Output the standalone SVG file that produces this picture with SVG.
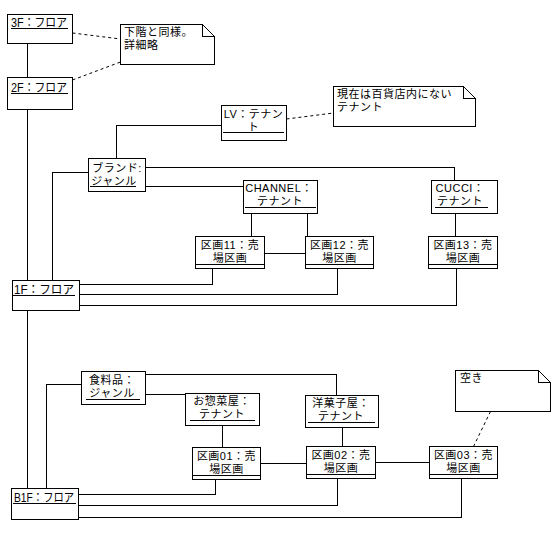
<svg xmlns="http://www.w3.org/2000/svg" width="557" height="534" viewBox="0 0 557 534">
<style>
  .bx{fill:#fff;stroke:#000;stroke-width:1}
  .ln{fill:none;stroke:#000;stroke-width:1}
  .dl{fill:none;stroke:#000;stroke-width:1;stroke-dasharray:3,3}
  text{font-family:"Liberation Sans","Noto Sans CJK JP",sans-serif;font-size:11px;letter-spacing:0.5px;fill:#000}
  .f{font-size:12px;letter-spacing:0}
  .c{text-anchor:middle}
  g{shape-rendering:crispEdges}
  #connectors .dl{shape-rendering:auto}
</style>
<rect width="557" height="534" fill="#fff"/>
<g id="connectors">
  <path class="ln" d="M27.5 43.5V77.5"/>
  <path class="ln" d="M27.5 109.5V280.5"/>
  <path class="ln" d="M27.5 310.5V488.5"/>
  <path class="dl" d="M72.5 33L120.5 39"/>
  <path class="dl" d="M72.5 80L120.5 62"/>
  <path class="ln" d="M221.5 125.5H116.5V158.5"/>
  <path class="dl" d="M286.5 119L333.5 113"/>
  <path class="ln" d="M88.5 172.5H52.5V280.5"/>
  <path class="ln" d="M145.5 167.5H454.5V180.5"/>
  <path class="ln" d="M145.5 186.5H243.5"/>
  <path class="ln" d="M251.5 213.5V236.5"/>
  <path class="ln" d="M307.5 213.5V236.5"/>
  <path class="ln" d="M264.5 253.5H305.5"/>
  <path class="ln" d="M455.5 213.5V236.5"/>
  <path class="ln" d="M79.5 284.5H212.5V268.5"/>
  <path class="ln" d="M79.5 294.5H337.5V268.5"/>
  <path class="ln" d="M79.5 305.5H456.5V268.5"/>
  <path class="ln" d="M81.5 384.5H46.5V488.5"/>
  <path class="ln" d="M145.5 374.5H336.5V395.5"/>
  <path class="ln" d="M145.5 394.5H185.5"/>
  <path class="ln" d="M222.5 425.5V447.5"/>
  <path class="ln" d="M342.5 427.5V446.5"/>
  <path class="ln" d="M260.5 463.5H306.5"/>
  <path class="ln" d="M375.5 462.5H429.5"/>
  <path class="ln" d="M78.5 494.5H215.5V479.5"/>
  <path class="ln" d="M78.5 505.5H337.5V478.5"/>
  <path class="ln" d="M78.5 517.5H461.5V478.5"/>
  <path class="dl" d="M490.5 411.5L473.5 446.5"/>
</g>

<g id="floor3F">
  <rect class="bx" x="7.5" y="14.5" width="65" height="29"/>
  <text class="f" x="11" y="26.5" textLength="56" lengthAdjust="spacingAndGlyphs">3F：フロア</text>
  <path class="ln" d="M11 28.5H68"/>
</g>
<g id="floor2F">
  <rect class="bx" x="7.5" y="77.5" width="65" height="32"/>
  <text class="f" x="11" y="91.5" textLength="56" lengthAdjust="spacingAndGlyphs">2F：フロア</text>
  <path class="ln" d="M11 93.5H68"/>
</g>
<g id="floor1F">
  <rect class="bx" x="12.5" y="280.5" width="67" height="30"/>
  <text class="f" x="14" y="293.5" textLength="60" lengthAdjust="spacingAndGlyphs">1F：フロア</text>
  <path class="ln" d="M13 295.5H75"/>
</g>
<g id="floorB1F">
  <rect class="bx" x="11.5" y="488.5" width="67" height="31"/>
  <text class="f" x="14" y="501.5" textLength="60" lengthAdjust="spacingAndGlyphs">B1F：フロア</text>
  <path class="ln" d="M13 503.5H76"/>
</g>

<g id="note1">
  <path class="bx" d="M120.5 24.5H202.5L214.5 36.5V64.5H120.5Z"/>
  <path class="ln" d="M202.5 24.5V36.5H214.5"/>
  <text><tspan x="124" y="35.5">下階と同様。</tspan><tspan x="124" y="48.5">詳細略</tspan></text>
</g>
<g id="note2">
  <path class="bx" d="M333.5 86.5H463.5L475.5 98.5V126.5H333.5Z"/>
  <path class="ln" d="M463.5 86.5V98.5H475.5"/>
  <text><tspan x="337" y="98">現在は百貨店内にない</tspan><tspan x="337" y="111">テナント</tspan></text>
</g>
<g id="note3">
  <path class="bx" d="M455.5 370.5H538.5L550.5 382.5V411.5H455.5Z"/>
  <path class="ln" d="M538.5 370.5V382.5H550.5"/>
  <text x="460" y="382">空き</text>
</g>

<g id="tenantLV">
  <rect class="bx" x="221.5" y="105.5" width="65" height="35"/>
  <text class="c"><tspan x="253.5" y="117.5">LV：テナン</tspan><tspan x="253.5" y="130.5">ト</tspan></text>
  <path class="ln" d="M223 132.5H284"/>
</g>
<g id="genreBrand">
  <rect class="bx" x="88.5" y="158.5" width="57" height="33"/>
  <text class="c"><tspan x="117" y="171.5">ブランド:</tspan><tspan x="114" y="184.5">ジャンル</tspan></text>
  <path class="ln" d="M90 186.5H136"/>
</g>
<g id="tenantCHANNEL">
  <rect class="bx" x="243.5" y="180.5" width="74" height="33"/>
  <text class="c"><tspan x="279" y="192">CHANNEL：</tspan><tspan x="280" y="205">テナント</tspan></text>
  <path class="ln" d="M245 207.5H316"/>
</g>
<g id="tenantCUCCI">
  <rect class="bx" x="431.5" y="180.5" width="66" height="33"/>
  <text class="c"><tspan x="460" y="192">CUCCI：</tspan><tspan x="460" y="205">テナント</tspan></text>
  <path class="ln" d="M435 207.5H488"/>
</g>
<g id="area11">
  <rect class="bx" x="195.5" y="236.5" width="69" height="32"/>
  <text class="c"><tspan x="230" y="249">区画11：売</tspan><tspan x="230" y="261.5">場区画</tspan></text>
  <path class="ln" d="M196 264.5H264"/>
</g>
<g id="area12">
  <rect class="bx" x="305.5" y="236.5" width="68" height="32"/>
  <text class="c"><tspan x="339.5" y="249">区画12：売</tspan><tspan x="339.5" y="261.5">場区画</tspan></text>
  <path class="ln" d="M306 264.5H373"/>
</g>
<g id="area13">
  <rect class="bx" x="428.5" y="236.5" width="69" height="32"/>
  <text class="c"><tspan x="463" y="249">区画13：売</tspan><tspan x="463" y="261.5">場区画</tspan></text>
  <path class="ln" d="M429 264.5H497"/>
</g>

<g id="genreFood">
  <rect class="bx" x="81.5" y="371.5" width="64" height="33"/>
  <text class="c"><tspan x="112" y="384">食料品：</tspan><tspan x="112" y="397">ジャンル</tspan></text>
  <path class="ln" d="M86 399.5H140"/>
</g>
<g id="tenantSouzai">
  <rect class="bx" x="185.5" y="393.5" width="74" height="32"/>
  <text class="c"><tspan x="222" y="405">お惣菜屋：</tspan><tspan x="222" y="418">テナント</tspan></text>
  <path class="ln" d="M190 420.5H255"/>
</g>
<g id="tenantYougashi">
  <rect class="bx" x="305.5" y="395.5" width="73" height="32"/>
  <text class="c"><tspan x="341" y="406.5">洋菓子屋：</tspan><tspan x="341" y="419.5">テナント</tspan></text>
  <path class="ln" d="M308 422.5H375"/>
</g>
<g id="area01">
  <rect class="bx" x="192.5" y="447.5" width="68" height="32"/>
  <text class="c"><tspan x="226.5" y="460">区画01：売</tspan><tspan x="226.5" y="472.5">場区画</tspan></text>
  <path class="ln" d="M193 475.5H260"/>
</g>
<g id="area02">
  <rect class="bx" x="306.5" y="446.5" width="69" height="32"/>
  <text class="c"><tspan x="341" y="459">区画02：売</tspan><tspan x="341" y="471.5">場区画</tspan></text>
  <path class="ln" d="M307 474.5H375"/>
</g>
<g id="area03">
  <rect class="bx" x="429.5" y="446.5" width="68" height="32"/>
  <text class="c"><tspan x="463.5" y="459">区画03：売</tspan><tspan x="463.5" y="471.5">場区画</tspan></text>
  <path class="ln" d="M430 474.5H497"/>
</g>
</svg>
